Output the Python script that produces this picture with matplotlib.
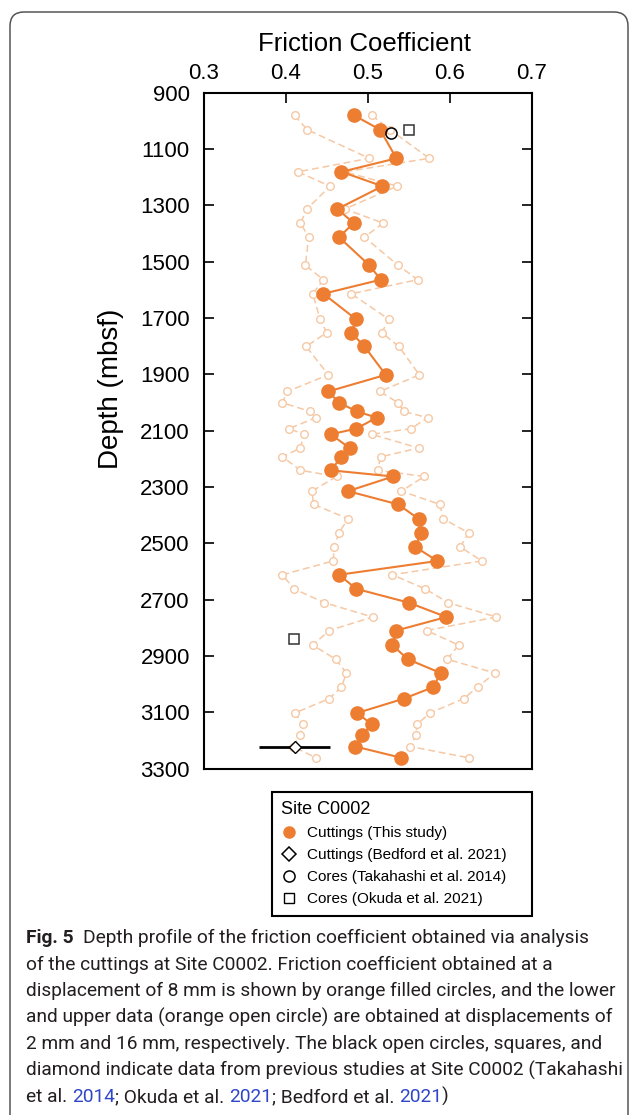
import matplotlib
matplotlib.use('Agg')
import matplotlib.pyplot as plt
from matplotlib.lines import Line2D
from matplotlib.patches import FancyBboxPatch
from matplotlib.transforms import IdentityTransform

plt.rcParams['font.family'] = 'Liberation Sans'

# Site C0002 cuttings: depth (mbsf) and friction coefficient at 2, 8, 16 mm displacement
depth = [980, 1031, 1133, 1181, 1232, 1313, 1363, 1413, 1513, 1564, 1614, 1705,
         1752, 1801, 1902, 1961, 2001, 2032, 2054, 2093, 2113, 2162, 2193, 2241,
         2263, 2315, 2362, 2413, 2463, 2513, 2563, 2612, 2662, 2711, 2762, 2810,
         2862, 2912, 2961, 3011, 3052, 3103, 3143, 3182, 3222, 3262]
mu_8mm = [0.483, 0.515, 0.535, 0.468, 0.518, 0.463, 0.483, 0.465, 0.502, 0.516, 0.446, 0.486,
          0.480, 0.496, 0.522, 0.452, 0.465, 0.487, 0.511, 0.486, 0.455, 0.478, 0.468, 0.455,
          0.531, 0.476, 0.537, 0.562, 0.565, 0.558, 0.585, 0.465, 0.486, 0.550, 0.596, 0.535,
          0.530, 0.549, 0.589, 0.580, 0.544, 0.487, 0.505, 0.493, 0.485, 0.541]
mu_2mm = [0.411, 0.426, 0.502, 0.415, 0.454, 0.426, 0.418, 0.428, 0.424, 0.446, 0.433, 0.442,
          0.450, 0.425, 0.452, 0.402, 0.396, 0.430, 0.437, 0.404, 0.422, 0.418, 0.396, 0.418,
          0.462, 0.432, 0.434, 0.476, 0.465, 0.459, 0.458, 0.396, 0.410, 0.447, 0.506, 0.453,
          0.433, 0.461, 0.474, 0.468, 0.453, 0.411, 0.421, 0.417, 0.409, 0.437]
mu_16mm = [0.505, 0.527, 0.575, 0.472, 0.536, 0.472, 0.519, 0.496, 0.537, 0.561, 0.480, 0.526,
           0.517, 0.538, 0.563, 0.515, 0.537, 0.544, 0.573, 0.553, 0.505, 0.562, 0.516, 0.512,
           0.569, 0.541, 0.588, 0.592, 0.623, 0.613, 0.639, 0.530, 0.570, 0.598, 0.657, 0.572,
           0.611, 0.597, 0.655, 0.634, 0.617, 0.576, 0.560, 0.559, 0.552, 0.623]

# previous studies
takahashi_mu = [0.529]
takahashi_depth = [1044]
okuda_mu = [0.550, 0.410]
okuda_depth = [1031, 2840]
bedford_mu = [0.411]
bedford_depth = [3225]
bedford_err = [0.043]

xticks = [0.3, 0.4, 0.5, 0.6, 0.7]
yticks = list(range(900, 3301, 200))

orange = '#ED7D31'
pale = '#F6C8A4'
ink = '#231F20'
link = '#3046C8'

W, H = 630, 1115
fig = plt.figure(figsize=(W / 100, H / 100), dpi=100)

# rounded panel frame (pixel coords)
frame = FancyBboxPatch((10, -30), 618, H - 12 + 30, boxstyle='round,pad=0,rounding_size=14',
                       transform=IdentityTransform(), facecolor='none', edgecolor='#555555', lw=1.1)
fig.add_artist(frame)

ax = fig.add_axes([203.7 / W, 1 - 768.5 / H, 328 / W, 675.8 / H])

# 2 mm and 16 mm: pale dashed open circles
for mu in (mu_2mm, mu_16mm):
    ax.plot(mu, depth, ls=(0, (4.5, 2.5)), color=pale, lw=1.1, marker='o', ms=5.5,
            mfc='white', mec=pale, mew=1.0, zorder=2)
# 8 mm: orange filled
ax.plot(mu_8mm, depth, '-', color=orange, lw=1.5, marker='o', ms=9.5, mec=orange, zorder=3)

ax.plot(takahashi_mu, takahashi_depth, ls='none', marker='o', ms=8, mfc='none', mec='black',
        mew=1.1, zorder=5)
ax.plot(okuda_mu, okuda_depth, ls='none', marker='s', ms=7, mfc='white', mec='#333333',
        mew=1.1, zorder=5)
ax.errorbar(bedford_mu, bedford_depth, xerr=bedford_err, fmt='D', ms=6.5, mfc='white',
            mec='black', mew=1.0, ecolor='black', elinewidth=2, capsize=0, zorder=5)

ax.set_xlim(0.3, 0.7)
ax.set_ylim(3300, 900)
ax.xaxis.tick_top()
ax.set_xticks(xticks)
ax.set_xticklabels([f'{v:.1f}' for v in xticks])
ax.set_yticks(yticks)
ax.tick_params(axis='x', direction='in', top=True, bottom=False, length=7, width=1.2,
               labelsize=16, pad=6, colors='black')
ax.tick_params(axis='y', direction='in', left=True, right=True, length=7, width=1.2,
               labelsize=16, pad=10, colors='black')
for sp in ax.spines.values():
    sp.set_linewidth(1.5)

fig.text(364 / W, 1 - 51 / H, 'Friction Coefficient', ha='center', va='baseline', fontsize=18.5)
fig.text(111 / W, 1 - 389 / H, 'Depth (mbsf)', rotation=90, ha='center', va='center', fontsize=20)

handles = [
    Line2D([], [], ls='none', marker='o', ms=8, color=orange),
    Line2D([], [], ls='none', marker='D', ms=7, mfc='white', mec='black', mew=1.1),
    Line2D([], [], ls='none', marker='o', ms=8, mfc='white', mec='black', mew=1.1),
    Line2D([], [], ls='none', marker='s', ms=7, mfc='white', mec='black', mew=1.0),
]
labels = ['Cuttings (This study)', 'Cuttings (Bedford et al. 2021)',
          'Cores (Takahashi et al. 2014)', 'Cores (Okuda et al. 2021)']
leg = fig.legend(handles, labels, title='Site C0002', loc='upper left',
                 bbox_to_anchor=(272 / W, 1 - 916 / H, 260 / W, 124 / H), mode='expand',
                 borderaxespad=0, fontsize=11, title_fontsize=13, alignment='left',
                 labelspacing=0.52, handlelength=1.0, handletextpad=0.65, borderpad=0.62,
                 fancybox=False, framealpha=1, edgecolor='black')
leg.get_frame().set_linewidth(1.5)

# caption
renderer = fig.canvas.get_renderer()
cap_family = 'Roboto'


def text_width(s, bold, size):
    t = fig.text(0, 0, s, family=cap_family, fontsize=size,
                 fontweight='bold' if bold else 'normal')
    w = t.get_window_extent(renderer).width
    t.remove()
    return w


cap_lines = [
    [('Fig. 5  ', True, ink), ('Depth profile of the friction coefficient obtained via analysis', False, ink)],
    [('of the cuttings at Site C0002. Friction coefficient obtained at a', False, ink)],
    [('displacement of 8 mm is shown by orange filled circles, and the lower', False, ink)],
    [('and upper data (orange open circle) are obtained at displacements of', False, ink)],
    [('2 mm and 16 mm, respectively. The black open circles, squares, and', False, ink)],
    [('diamond indicate data from previous studies at Site C0002 (Takahashi', False, ink)],
    [('et al. ', False, ink), ('2014', False, link), ('; Okuda et al. ', False, ink),
     ('2021', False, link), ('; Bedford et al. ', False, ink), ('2021', False, link), (')', False, ink)],
]
# size the caption so the third (longest) line spans the text column as in the page
cap_size = 10 * 591 / text_width(cap_lines[2][0][0], False, 10)

y0, step = 943, 26.5
for i, pieces in enumerate(cap_lines):
    x = 26.0
    y = y0 + i * step
    for txt, bold, col in pieces:
        fig.text(x / W, 1 - y / H, txt, color=col, family=cap_family, fontsize=cap_size,
                 fontweight='bold' if bold else 'normal', va='baseline', ha='left')
        x += text_width(txt + '|', bold, cap_size) - text_width('|', bold, cap_size)

fig.savefig('out.png', dpi=100)
